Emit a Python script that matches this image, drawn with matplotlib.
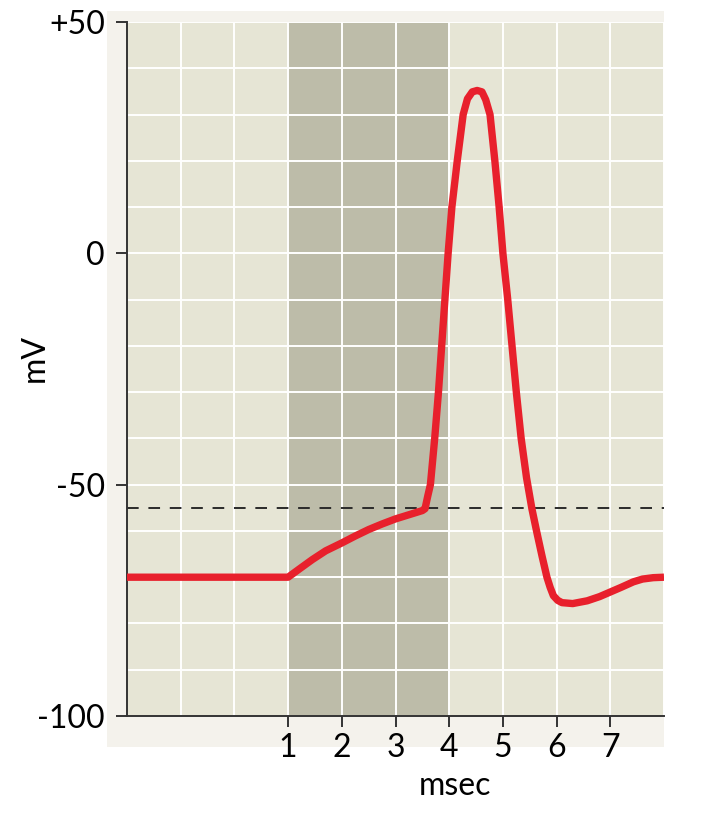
import matplotlib
matplotlib.use("Agg")
import matplotlib.pyplot as plt
from matplotlib.patches import Rectangle
from matplotlib.ticker import MultipleLocator

# ---- data ----
time_ms = [-2.0, 1.0, 1.2, 1.45, 1.7, 2.0, 2.25, 2.5, 2.75, 3.0, 3.25, 3.5,
           3.55, 3.60, 3.65, 3.73, 3.80, 3.86, 3.92, 3.98, 4.05, 4.15, 4.26,
           4.34, 4.43, 4.52, 4.61, 4.68, 4.76, 4.85, 4.93, 5.0, 5.09, 5.17,
           5.25, 5.34, 5.44, 5.54, 5.63, 5.73, 5.82, 5.88, 5.94, 6.02, 6.1,
           6.3, 6.57, 6.8, 7.0, 7.2, 7.43, 7.6, 7.8, 8.0]
voltage_mv = [-70, -70, -68.3, -66.2, -64.3, -62.6, -61.1, -59.7, -58.5, -57.4,
              -56.5, -55.6, -55.2, -52.5, -50, -40, -30, -20, -10, 0, 10, 20,
              30, 33.4, 34.9, 35.2, 34.9, 33.2, 30, 20, 10, 0, -10, -20, -30,
              -40, -48.5, -55.2, -60.2, -65.5, -70, -72.2, -74.0, -75.0,
              -75.5, -75.7, -75.1, -74.2, -73.2, -72.2, -71.0, -70.4, -70.1,
              -70]
threshold_mv = -55
stim_window = [1, 4]
x_ticks = [1, 2, 3, 4, 5, 6, 7]
x_tick_labels = ["1", "2", "3", "4", "5", "6", "7"]
y_ticks = [-100, -50, 0, 50]
y_tick_labels = ["-100", "-50", "0", "+50"]
x_limits = [-2, 8]
y_limits = [-100, 50]

plt.rcParams['font.family'] = ['Lato', 'DejaVu Sans']

W, H = 720, 816
fig = plt.figure(figsize=(W / 100, H / 100), dpi=100)
fig.patch.set_facecolor('white')

# outer light panel
fig.patches.append(Rectangle((107 / W, (H - 747) / H), (664 - 107) / W, (747 - 11) / H,
                             transform=fig.transFigure, facecolor='#f4f2ec',
                             edgecolor='none', zorder=-5))

ax = fig.add_axes([127 / W, (H - 716) / H, (664 - 127) / W, (716 - 22) / H])
ax.set_zorder(1)
ax.set_facecolor('#e6e5d5')
ax.set_xlim(*x_limits)
ax.set_ylim(*y_limits)

ax.axvspan(stim_window[0], stim_window[1], facecolor='#bdbca9', edgecolor='none', zorder=0.2)

ax.set_axisbelow(True)
ax.xaxis.set_minor_locator(MultipleLocator(1))
ax.yaxis.set_minor_locator(MultipleLocator(10))
ax.grid(True, which='both', color='white', linewidth=1.4)
ax.tick_params(which='minor', length=0)

ax.axhline(threshold_mv, color='#2a2a2a', linewidth=1.4, dashes=(6, 5), zorder=2)
ax.plot(time_ms, voltage_mv, color='#e8202c', linewidth=5.3,
        solid_joinstyle='round', solid_capstyle='butt', zorder=3)

ax.set_xticks(x_ticks)
ax.set_xticklabels(x_tick_labels)
ax.set_yticks(y_ticks)
ax.set_yticklabels(y_tick_labels)
ax.tick_params(which='major', direction='out', length=8, width=1.4, color='#333333',
               labelsize=23, labelcolor='black')
ax.tick_params(axis='y', pad=8)
ax.tick_params(axis='x', pad=4)

for s in ['top', 'right']:
    ax.spines[s].set_visible(False)
for s in ['left', 'bottom']:
    ax.spines[s].set_color('#333333')
    ax.spines[s].set_linewidth(1.4)

ax.set_ylabel('mV', fontsize=23)
ax.yaxis.set_label_coords(-0.143, 0.516)
ax.text((455 - 127) / (664 - 127), (716 - 795) / (716 - 22), 'msec', transform=ax.transAxes,
        ha='center', va='baseline', fontsize=23)

fig.savefig('out.png', dpi=100)
